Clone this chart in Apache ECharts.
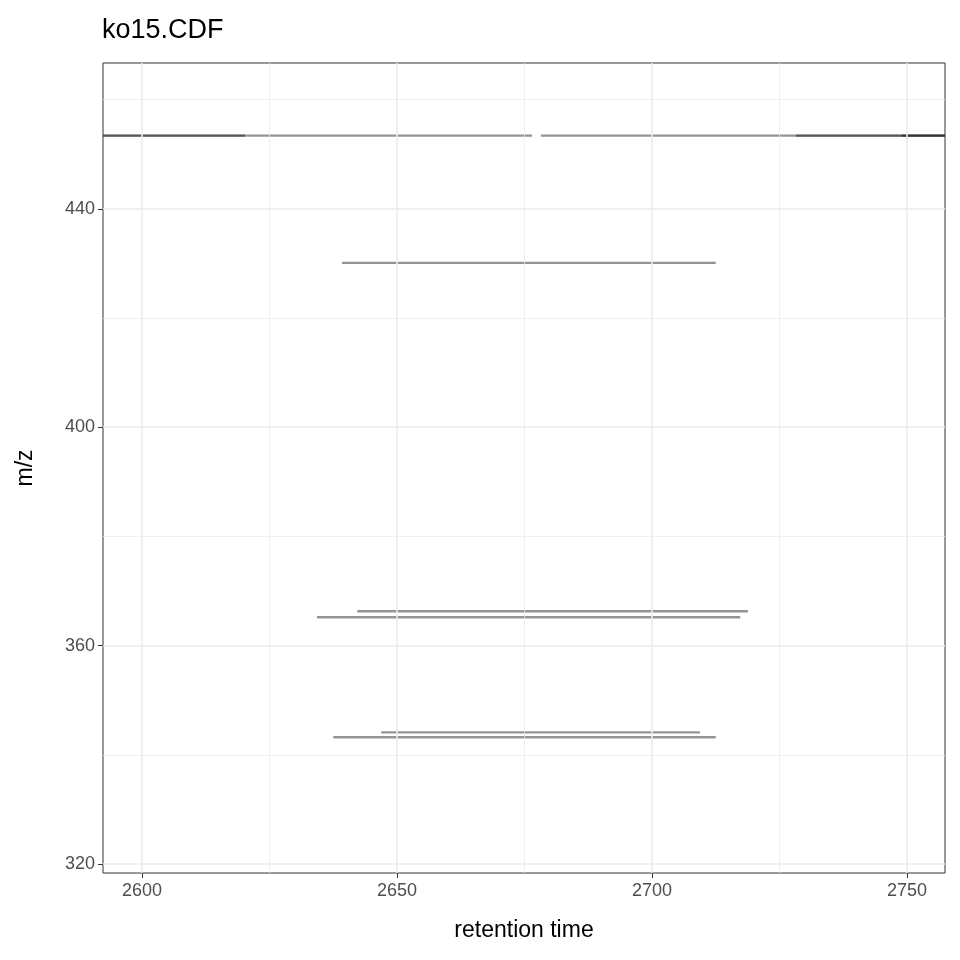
<!DOCTYPE html>
<html><head><meta charset="utf-8">
<script src="https://cdn.jsdelivr.net/npm/echarts@6/dist/echarts.min.js"></script>
<style>body{margin:0}#c{width:960px;height:960px}</style></head>
<body><div id="c"></div>
<script>
// peak segments: [rt start, rt end, m/z]
const segStart = [2592.4, 2592.4, 2678.2, 2728.2, 2749, 2639.2, 2642.2, 2634.3, 2646.9, 2637.5];
const segEnd   = [2676.5, 2620.2, 2757.4, 2757.4, 2757.4, 2712.5, 2718.8, 2717.3, 2709.4, 2712.5];
const segMz    = [453.4, 453.4, 453.4, 453.4, 453.4, 430.1, 366.3, 365.2, 344.1, 343.2];
const xTicks = [2600, 2650, 2700, 2750];
const xMinor = [2625, 2675, 2725];
const yTicks = [320, 360, 400, 440];
const yMinor = [340, 380, 420, 460];

const chart = echarts.init(document.getElementById('c'));
const seg = segStart.map((s, i) => ({
  type: 'line', data: [[s, segMz[i]], [segEnd[i], segMz[i]]], symbol: 'none', silent: true,
  lineStyle: { color: 'rgba(0,0,0,0.42)', width: 2.4, cap: 'butt' }, clip: true, z: 3
}));
const grid = {
  type: 'line', data: [], silent: true, z: 1,
  markLine: {
    symbol: 'none', silent: true, label: { show: false }, animation: false,
    data: [
      ...xMinor.map(v => ({ xAxis: v, lineStyle: { color: '#ebebeb', width: 0.8, type: 'solid' } })),
      ...yMinor.map(v => ({ yAxis: v, lineStyle: { color: '#ebebeb', width: 0.8, type: 'solid' } })),
      ...xTicks.map(v => ({ xAxis: v, lineStyle: { color: '#ebebeb', width: 1.6, type: 'solid' } })),
      ...yTicks.map(v => ({ yAxis: v, lineStyle: { color: '#ebebeb', width: 1.6, type: 'solid' } }))
    ]
  }
};
chart.setOption({
  animation: false,
  title: { text: 'ko15.CDF', left: 97, top: 12, textStyle: { fontFamily: 'Liberation Sans', fontSize: 27, fontWeight: 'normal', color: '#000' } },
  grid: { left: 103, right: 15, top: 63, bottom: 87, show: true, borderColor: '#333', borderWidth: 1, backgroundColor: '#fff' },
  xAxis: {
    type: 'value', min: 2592.35, max: 2757.45,
    name: 'retention time', nameLocation: 'middle', nameGap: 46,
    nameTextStyle: { fontFamily: 'Liberation Sans', fontSize: 23, color: '#000' },
    axisLine: { show: false }, splitLine: { show: false },
    axisTick: { show: true, customValues: xTicks, length: 5, lineStyle: { color: '#333' } },
    axisLabel: { customValues: xTicks, formatter: v => String(v), fontFamily: 'Liberation Sans', fontSize: 18, color: '#4d4d4d', margin: 9 }
  },
  yAxis: {
    type: 'value', min: 318.35, max: 466.7,
    name: 'm/z', nameLocation: 'middle', nameGap: 66, nameRotate: 90,
    nameTextStyle: { fontFamily: 'Liberation Sans', fontSize: 23, color: '#000' },
    axisLine: { show: false }, splitLine: { show: false },
    axisTick: { show: true, customValues: yTicks, length: 5, lineStyle: { color: '#333' } },
    axisLabel: { customValues: yTicks, formatter: v => String(v), fontFamily: 'Liberation Sans', fontSize: 18, color: '#4d4d4d', margin: 8 }
  },
  series: [grid, ...seg]
});
</script></body></html>
